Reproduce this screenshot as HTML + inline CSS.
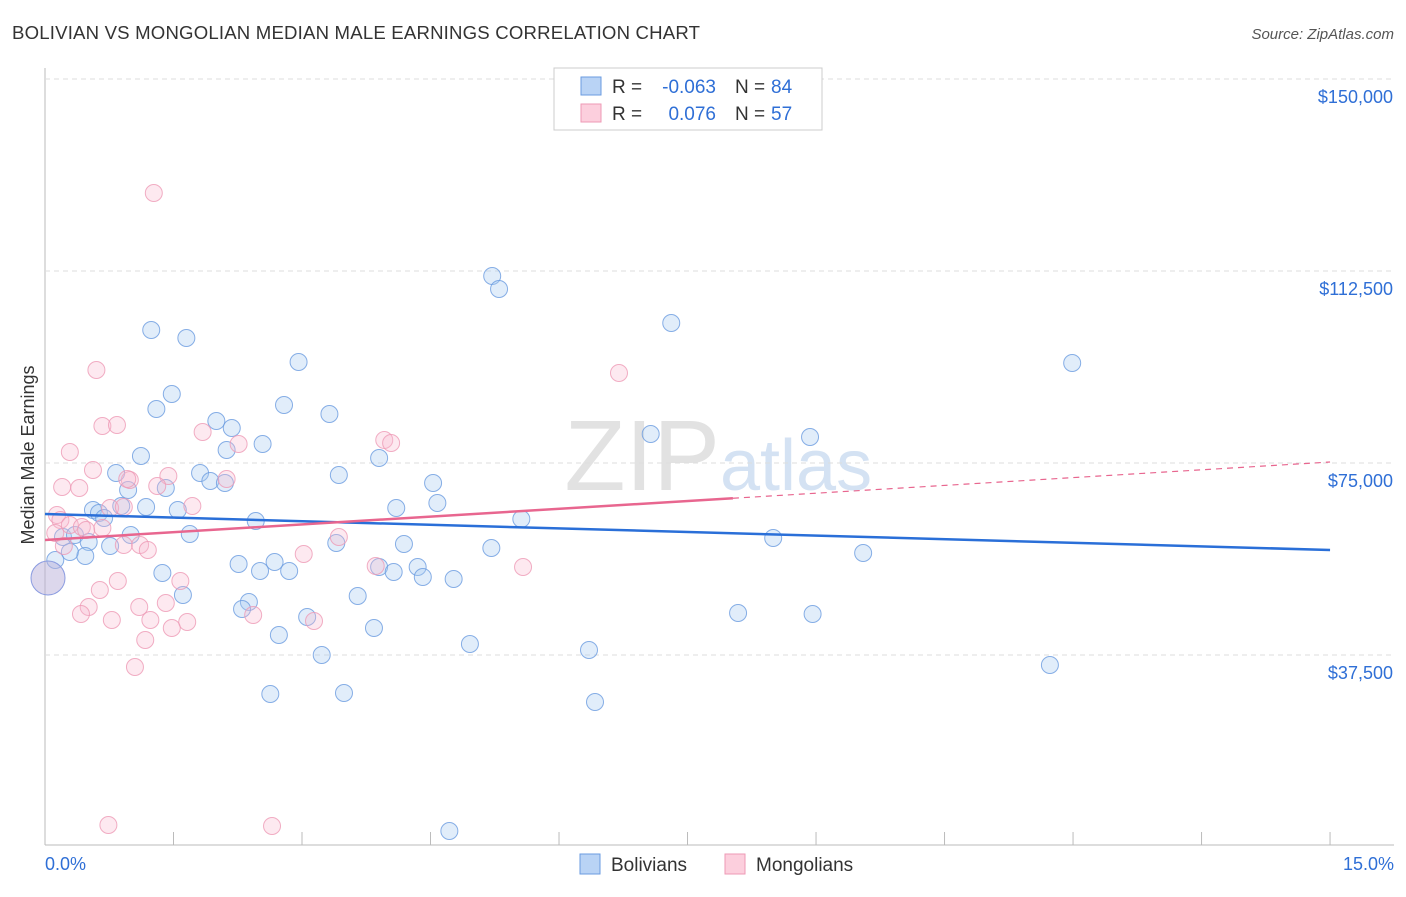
<!DOCTYPE html>
<html><head><meta charset="utf-8"><style>
body{margin:0;background:#fff;font-family:"Liberation Sans",sans-serif}
svg text{font-family:"Liberation Sans",sans-serif}
</style></head><body>
<svg id="c" width="1406" height="892" xmlns="http://www.w3.org/2000/svg">
<text x="12" y="39" font-size="18.6" fill="#333" textLength="688">BOLIVIAN VS MONGOLIAN MEDIAN MALE EARNINGS CORRELATION CHART</text>
<text x="1394" y="39" font-size="15" fill="#555" font-style="italic" text-anchor="end">Source: ZipAtlas.com</text>
<text x="720" y="490" font-size="100" fill="#e2e2e2" text-anchor="end" font-family="Liberation Serif">ZIP</text>
<text x="720" y="490" font-size="72" fill="#d4e2f3">atlas</text>
<text transform="translate(34,455) rotate(-90)" font-size="18" fill="#333" text-anchor="middle">Median Male Earnings</text>
<g id="grid"></g><g id="pts"></g><g id="lines"></g>
<rect x="554" y="68" width="268" height="62" fill="#fff" stroke="#ccc"/>
<rect x="581" y="77" width="20" height="18" fill="#b9d3f5" stroke="#6a9be0"/>
<rect x="581" y="104" width="20" height="18" fill="#fccfdd" stroke="#ee9ab5"/>
<g font-size="19">
<text x="612" y="93" fill="#333">R =</text>
<text x="716" y="93" fill="#2f6fd6" text-anchor="end">-0.063</text>
<text x="735" y="93" fill="#333">N =</text>
<text x="771" y="93" fill="#2f6fd6">84</text>
</g>
<g font-size="19">
<text x="612" y="120" fill="#333">R =</text>
<text x="716" y="120" fill="#2f6fd6" text-anchor="end">0.076</text>
<text x="735" y="120" fill="#333">N =</text>
<text x="771" y="120" fill="#2f6fd6">57</text>
</g>
<rect x="580" y="854" width="20" height="20" fill="#b9d3f5" stroke="#6a9be0"/>
<text x="611" y="871" font-size="19" fill="#333">Bolivians</text>
<rect x="725" y="854" width="20" height="20" fill="#fccfdd" stroke="#ee9ab5"/>
<text x="756" y="871" font-size="19" fill="#333">Mongolians</text>
<text x="45" y="870" font-size="18" fill="#2f6fd6">0.0%</text>
<text x="1394" y="870" font-size="18" fill="#2f6fd6" text-anchor="end">15.0%</text>
</svg>
<script>
const yTicks=[37500,75000,112500,150000];
const yTickLabels=["$37,500","$75,000","$112,500","$150,000"];
const bluePx=[[151,330],[186,338],[492,276],[499,289],[671,323],[1072,363],[299,362],[172,394],[156,409],[284,405],[329,414],[216,421],[232,428],[227,450],[263,444],[141,456],[379,458],[651,434],[810,437],[116,473],[200,473],[339,475],[433,483],[210,481],[225,483],[128,490],[166,488],[437,503],[396,508],[93,510],[99,513],[146,507],[178,510],[104,518],[121,506],[256,521],[521,519],[63,537],[75,535],[131,535],[190,534],[89,542],[110,546],[336,543],[404,544],[491,548],[773,538],[863,553],[85,556],[70,552],[55,560],[239,564],[275,562],[162,573],[260,571],[289,571],[379,567],[394,572],[418,567],[423,577],[454,579],[183,595],[358,596],[249,602],[242,609],[307,617],[738,613],[813,614],[374,628],[279,635],[470,644],[589,650],[322,655],[1050,665],[270,694],[344,693],[595,702],[449,831]];
const pinkPx=[[154,193],[96,370],[619,373],[102,426],[117,425],[203,432],[239,444],[384,440],[391,443],[70,452],[93,470],[168,476],[130,480],[227,479],[62,487],[79,488],[157,486],[127,479],[110,508],[124,507],[192,506],[57,515],[60,520],[70,525],[82,527],[102,528],[86,530],[55,533],[64,546],[124,545],[140,545],[148,550],[339,537],[304,554],[376,566],[523,567],[118,581],[180,581],[100,590],[89,607],[81,614],[139,607],[166,603],[253,615],[187,622],[150,620],[172,628],[314,621],[112,620],[145,640],[135,667],[108,825],[272,826]];
// data values (x in %, y in $)
const bolX=bluePx.map(p=>+((p[0]-45)/85.67).toFixed(2));
const bolY=bluePx.map(p=>Math.round(75000+(463-p[1])*195.3));
const monX=pinkPx.map(p=>+((p[0]-45)/85.67).toFixed(2));
const monY=pinkPx.map(p=>Math.round(75000+(463-p[1])*195.3));
const bolTrend=[65040,58010];
const monTrend=[59960,75195];
const monSolidEnd=8.03;
const X=v=>45+v*85.67, Y=v=>463-(v-75000)/195.3;
const NS="http://www.w3.org/2000/svg";
function mk(t,a,p){const e=document.createElementNS(NS,t);for(const k in a)e.setAttribute(k,a[k]);p.appendChild(e);return e;}
const g=document.getElementById('grid');
let ax=mk('line',{x1:45,y1:68,x2:45,y2:845,stroke:'#bbb'},g);


let bx=mk('line',{x1:45,y1:845,x2:1394,y2:845,stroke:'#bbb'},g);


for(let i=0;i<=10;i++){const t=mk('line',{x1:X(i*1.5),x2:X(i*1.5),y1:845,y2:832,stroke:'#bbb'},g);

}
yTicks.forEach((v,i)=>{const l=mk('line',{x1:45,x2:1394,y1:Y(v),y2:Y(v),stroke:'#ddd','stroke-dasharray':'5,4'},g);


const t=mk('text',{x:1393,y:Y(v)+24,'font-size':18,fill:'#2f6fd6','text-anchor':'end'},g);t.textContent=yTickLabels[i];

});
const pg=document.getElementById('pts');
function dots(xs,ys,f,s,name){xs.forEach((x,i)=>{const c=mk('circle',{cx:X(x),cy:Y(ys[i]),r:8.5,fill:f,stroke:s,'stroke-width':1,'stroke-opacity':0.8},pg);

});}
dots(bolX,bolY,'rgba(170,202,242,0.35)','#6a9be0','bolivian-point');
dots(monX,monY,'rgba(248,186,208,0.32)','#ee9ab5','mongolian-point');
let big=mk('circle',{cx:48,cy:578,r:17,fill:'rgba(185,175,218,0.5)',stroke:'#8a9be0'},pg);


const lg=document.getElementById('lines');
let b=mk('line',{x1:X(0),y1:Y(bolTrend[0]),x2:X(15),y2:Y(bolTrend[1]),stroke:'#2a6fd8','stroke-width':2.5},lg);


const mAt=x=>monTrend[0]+(monTrend[1]-monTrend[0])*x/15;
let m=mk('line',{x1:X(0),y1:Y(mAt(0)),x2:X(monSolidEnd),y2:Y(mAt(monSolidEnd)),stroke:'#e8668f','stroke-width':2.5},lg);


let md=mk('line',{x1:X(monSolidEnd),y1:Y(mAt(monSolidEnd)),x2:X(15),y2:Y(mAt(15)),stroke:'#e8668f','stroke-width':1.2,'stroke-dasharray':'6,5'},lg);


</script>
</body></html>
